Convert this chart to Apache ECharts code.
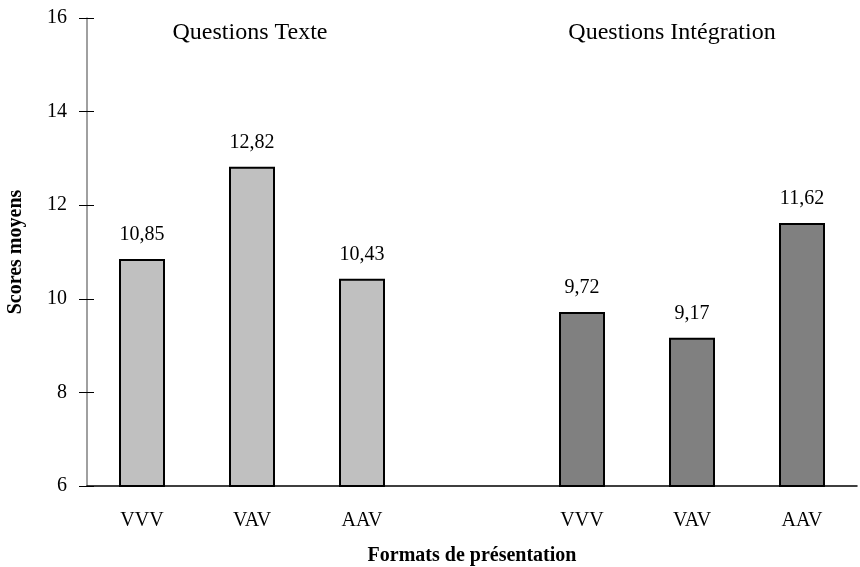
<!DOCTYPE html>
<html>
<head>
<meta charset="utf-8">
<script src="https://cdn.jsdelivr.net/npm/echarts@6/dist/echarts.min.js"></script>
<style>
  html, body { margin: 0; padding: 0; background: #fff; }
  #chart { width: 860px; height: 567px; }
</style>
</head>
<body>
<div id="chart"></div>
<script>
// formats, with an empty slot between the two groups
const categories = ["VVV", "VAV", "AAV", "", "VVV", "VAV", "AAV"];
const texteScores = [10.85, 12.82, 10.43, "-", "-", "-", "-"];
const integrationScores = ["-", "-", "-", "-", 9.72, 9.17, 11.62];
const groupTitles = ["Questions Texte", "Questions Intégration"];
const yTicks = { min: 6, max: 16, interval: 2 };

const font = "Liberation Serif";

function barLabel() {
  return {
    show: true,
    position: "top",
    distance: 14,
    color: "#000",
    fontFamily: font,
    fontSize: 20,
    formatter: (p) => String(p.value).replace(".", ","),
  };
}

function groupTitle(text, x) {
  return {
    text: text,
    left: x,
    top: 16,
    textAlign: "center",
    textStyle: { fontFamily: font, fontSize: 24, fontWeight: "normal", color: "#000" },
  };
}

const chart = echarts.init(document.getElementById("chart"));
chart.setOption({
  animation: false,
  backgroundColor: "#fff",
  textStyle: { fontFamily: font },
  title: [groupTitle(groupTitles[0], 245), groupTitle(groupTitles[1], 667)],
  grid: { left: 87, right: 3, top: 18, bottom: 81, outerBoundsMode: "none" },
  xAxis: {
    type: "category",
    data: categories,
    name: "Formats de présentation",
    nameLocation: "middle",
    nameGap: 60,
    nameTextStyle: { fontFamily: font, fontSize: 20, fontWeight: "bold", color: "#000" },
    axisLine: { lineStyle: { color: "#000", width: 1.5 } },
    axisTick: { show: false },
    axisLabel: { color: "#000", fontFamily: font, fontSize: 20, margin: 25 },
  },
  yAxis: [
    {
      type: "value",
      min: yTicks.min,
      max: yTicks.max,
      interval: yTicks.interval,
      name: "Scores moyens",
      nameLocation: "middle",
      nameGap: 61,
      nameTextStyle: { fontFamily: font, fontSize: 20, fontWeight: "bold", color: "#000" },
      axisLine: { show: true, lineStyle: { color: "#808080", width: 1.5 } },
      axisTick: { show: true, length: 8, lineStyle: { color: "#000" } },
      axisLabel: { color: "#000", fontFamily: font, fontSize: 20, margin: 20 },
      splitLine: { show: false },
    },
    {
      // inner half of the crossing ticks
      type: "value",
      position: "left",
      min: yTicks.min,
      max: yTicks.max,
      interval: yTicks.interval,
      axisLine: { show: false },
      axisTick: { show: true, inside: true, length: 7, lineStyle: { color: "#000" } },
      axisLabel: { show: false },
      splitLine: { show: false },
    },
  ],
  series: [
    {
      name: groupTitles[0],
      type: "bar",
      data: texteScores,
      barWidth: 46,
      barGap: "-100%",
      itemStyle: { color: "#C0C0C0", borderColor: "#000", borderWidth: 2 },
      label: barLabel(),
    },
    {
      name: groupTitles[1],
      type: "bar",
      data: integrationScores,
      barWidth: 46,
      itemStyle: { color: "#808080", borderColor: "#000", borderWidth: 2 },
      label: barLabel(),
    },
  ],
});
</script>
</body>
</html>
